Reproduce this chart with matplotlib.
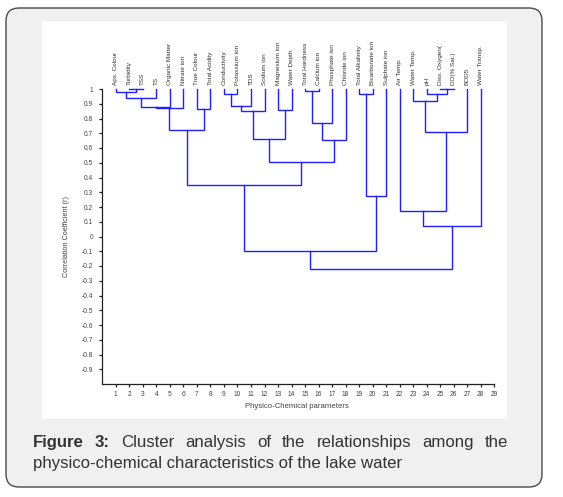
import matplotlib
matplotlib.use("Agg")
import matplotlib.pyplot as plt
from matplotlib.patches import FancyBboxPatch, Rectangle
from matplotlib.transforms import IdentityTransform

plt.rcParams["font.family"] = ["Liberation Sans", "DejaVu Sans"]

# leaf order along the x axis (positions 1..28)
leaf_labels = [
    "Aps. Colour", "Turbidity", "TSS", "TS", "Organic Matter", "Nitrate ion",
    "True Colour", "Total Acidity", "Conductivity", "Potassium ion", "TDS",
    "Sodium ion", "Magnesium ion", "Water Depth", "Total Hardness",
    "Calcium ion", "Phosphate ion", "Chloride ion", "Total Alkalinity",
    "Bicarbonate ion", "Sulphate ion", "Air Temp.", "Water Temp.", "pH",
    "Diss. Oxygen(", "DO(% Sat.)", "BOD5", "Water Transp.",
]

# merges: (left, right, correlation r); ints = leaf number, "nK" = K-th merge
merges = [
    (2, 3, 1.0),          # n1
    (1, "n1", 0.98),      # n2
    ("n2", 4, 0.94),      # n3
    ("n3", 5, 0.878),     # n4
    ("n4", 6, 0.87),      # n5
    (7, 8, 0.862),        # n6
    ("n5", "n6", 0.722),  # n7
    (9, 10, 0.964),       # n8
    ("n8", 11, 0.887),    # n9
    ("n9", 12, 0.853),    # n10
    (13, 14, 0.857),      # n11
    ("n10", "n11", 0.661),  # n12
    (15, 16, 0.986),      # n13
    ("n13", 17, 0.771),   # n14
    ("n14", 18, 0.654),   # n15
    ("n12", "n15", 0.503),  # n16
    ("n7", "n16", 0.349),   # n17
    (19, 20, 0.966),      # n18
    ("n18", 21, 0.277),   # n19
    ("n17", "n19", -0.098),  # n20
    (25, 26, 1.0),        # n21
    (24, "n21", 0.966),   # n22
    (23, "n22", 0.921),   # n23
    ("n23", 27, 0.71),    # n24
    (22, "n24", 0.171),   # n25
    ("n25", 28, 0.073),   # n26
    ("n20", "n26", -0.218),  # n27
]

x_ticks = list(range(1, 30))
y_ticks = [1, 0.9, 0.8, 0.7, 0.6, 0.5, 0.4, 0.3, 0.2, 0.1, 0,
           -0.1, -0.2, -0.3, -0.4, -0.5, -0.6, -0.7, -0.8, -0.9]
y_tick_labels = ["1", "0.9", "0.8", "0.7", "0.6", "0.5", "0.4", "0.3", "0.2",
                 "0.1", "0", "-0.1", "-0.2", "-0.3", "-0.4", "-0.5", "-0.6",
                 "-0.7", "-0.8", "-0.9"]

W, H = 563, 497
fig = plt.figure(figsize=(W / 100, H / 100), dpi=100)
fig.patch.set_facecolor("white")

# card frame + white plot panel (kept behind the axes)
frame = FancyBboxPatch((6, H - 487), 536, 479,
                       boxstyle="round,pad=0,rounding_size=13",
                       transform=IdentityTransform(),
                       fc="#f0f0f0", ec="#4a4a4a", lw=1.0, zorder=-3)
fig.add_artist(frame)
panel = Rectangle((42 / W, 1 - 419 / H), 465 / W, 398 / H,
                  transform=fig.transFigure, fc="white", ec="none", zorder=-2)
fig.add_artist(panel)

ax = fig.add_axes([102.3 / W, 1 - 384 / H, 392 / W, 295 / H])
ax.set_facecolor("none")
ax.set_zorder(1)

# -----------------------------
# dendrogram
# -----------------------------
line_color = "#2020ff"
pos = {}
top = {}
for i in range(1, len(leaf_labels) + 1):
    pos[i] = i
    top[i] = 1.0

for k, (a, b, r) in enumerate(merges, start=1):
    xa, xb = pos[a], pos[b]
    ax.plot([xa, xa, xb, xb], [top[a], r, r, top[b]],
            color=line_color, lw=1.0, clip_on=False, solid_joinstyle="miter")
    pos[f"n{k}"] = (xa + xb) / 2
    top[f"n{k}"] = r

for i, lab in enumerate(leaf_labels, start=1):
    ax.annotate(lab, xy=(i, 1.0), xytext=(0, 3), textcoords="offset points",
                rotation=90, ha="center", va="bottom", fontsize=4.6,
                color="#333333", annotation_clip=False)

ax.set_xlim(0, 29)
ax.set_ylim(-1, 1)
ax.set_xticks(x_ticks)
ax.set_xticklabels([str(t) for t in x_ticks])
ax.set_yticks(y_ticks)
ax.set_yticklabels(y_tick_labels)
ax.tick_params(axis="both", labelsize=4.8, colors="#222222",
               labelcolor="#444444", length=2.5, width=0.9, direction="out")
ax.tick_params(axis="y", pad=4)
ax.tick_params(axis="x", pad=2.5)
for s in ["top", "right"]:
    ax.spines[s].set_visible(False)
for s in ["left", "bottom"]:
    ax.spines[s].set_linewidth(0.9)
    ax.spines[s].set_color("#222222")

fig.text(66 / W, 1 - 236.5 / H, "Correlation Coefficient (r)", rotation=90,
         ha="center", va="center", fontsize=5.2, color="#444444")
fig.text(297 / W, 1 - 406.5 / H, "Physico-Chemical parameters",
         ha="center", va="center", fontsize=5.6, color="#444444")

# -----------------------------
# caption (first line justified)
# -----------------------------
cap_color = "#333333"
cap_size = 12.1
line1 = [("Figure", "bold"), ("3:", "bold"), ("Cluster", "normal"),
         ("analysis", "normal"), ("of", "normal"), ("the", "normal"),
         ("relationships", "normal"), ("among", "normal"), ("the", "normal")]
texts = [fig.text(0, 0, w, fontsize=cap_size, fontweight=fw, color=cap_color,
                  transform=IdentityTransform(), va="baseline")
         for w, fw in line1]
renderer = fig.canvas.get_renderer()
widths = [t.get_window_extent(renderer).width for t in texts]
left, right = 32.7, 508.0
gap = (right - left - sum(widths)) / (len(texts) - 1)
x = left
for t, w in zip(texts, widths):
    t.set_position((x, H - 447.3))
    x += w + gap

fig.text(left, H - 468.0, "physico-chemical characteristics of the lake water",
         fontsize=cap_size, color=cap_color, transform=IdentityTransform(),
         va="baseline")

fig.savefig("out.png", dpi=100)
